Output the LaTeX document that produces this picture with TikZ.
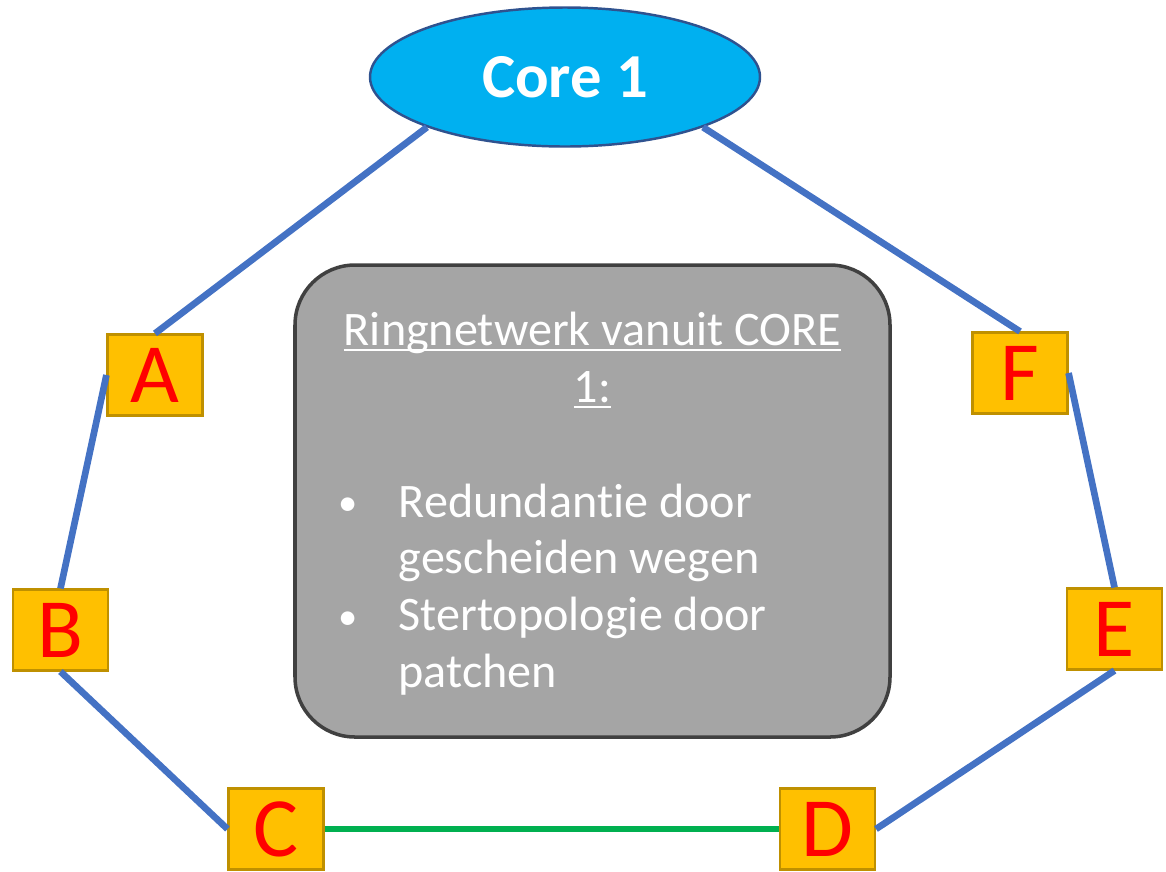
\documentclass[tikz,border=0pt]{standalone}
\usepackage{fontspec}
\setmainfont[Ligatures=NoCommon]{Carlito}
\usetikzlibrary{shapes.geometric}
\definecolor{coreblue}{HTML}{00B0F0}
\definecolor{coreedge}{HTML}{2F528F}
\definecolor{boxfill}{HTML}{FFC000}
\definecolor{boxedge}{HTML}{BF9000}
\definecolor{linkblue}{HTML}{4472C4}
\definecolor{linkgreen}{HTML}{00B050}
\definecolor{infofill}{HTML}{A5A5A5}
\definecolor{infoedge}{HTML}{404040}
\newcommand{\ringbullet}{\makebox[0.60cm][l]{\raisebox{0.4pt}{\scalebox{0.8}{\textbullet}}}}
\begin{document}
\begin{tikzpicture}[x=1cm,y=-1cm,
  switchbox/.style={draw=boxedge,line width=0.6pt,fill=boxfill,minimum width=0.95cm,
    minimum height=0.81cm,inner sep=0pt,text=red,font=\fontsize{24}{24}\selectfont},
  link/.style={draw=linkblue,line width=1.9pt},
  infotext/.style={text=white,inner sep=0pt,font=\fontsize{13.7}{16.2}\selectfont}]
\useasboundingbox (0,0) rectangle (11.66,8.71);
% core en ring
\node[ellipse,draw=coreedge,line width=0.7pt,fill=coreblue,minimum width=3.9cm,minimum height=1.39cm,
  inner sep=0pt,text=white,font=\fontsize{17.8}{22}\selectfont\bfseries] (core) at (5.65,0.77) {Core 1};
\node[switchbox] (A) at (1.55,3.75) {A};
\node[switchbox] (B) at (0.605,6.30) {B};
\node[switchbox] (C) at (2.76,8.29) {C};
\node[switchbox] (D) at (8.275,8.29) {D};
\node[switchbox] (E) at (11.145,6.29) {E};
\node[switchbox] (F) at (10.20,3.73) {F};
\draw[link] (core.200)--(A.north);
\draw[link] (A.west)--(B.north);
\draw[link] (B.south)--(C.west);
\draw[link,draw=linkgreen] (C.east)--(D.west);
\draw[link] (D.east)--(E.south);
\draw[link] (E.north)--(F.east);
\draw[link] (core.-20)--(F.north);
% uitleg
\node[draw=infoedge,line width=1pt,fill=infofill,rounded corners=0.6cm,minimum width=5.95cm,
  minimum height=4.72cm] (info) at (5.925,5.01) {};
\node[infotext,align=center,anchor=base] (title) at (5.925,4.02)
  {\underline{\smash{Ringnetwerk vanuit CORE}}\\\underline{\smash{1:}}};
\node[infotext,anchor=base west] (list) at (3.38,5.17)
  {\begin{tabular}[t]{@{}l@{}l@{}}
  \ringbullet & Redundantie door\\
   & gescheiden wegen\\
  \ringbullet & Stertopologie door\\
   & patchen
  \end{tabular}};
\end{tikzpicture}
\end{document}
